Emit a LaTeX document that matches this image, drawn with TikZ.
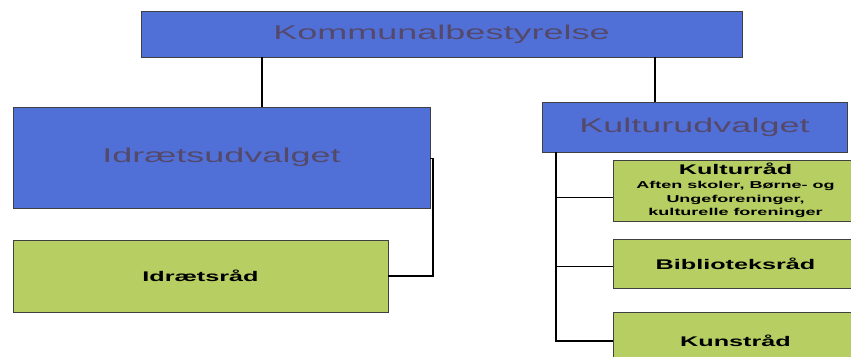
\documentclass[tikz,border=0pt]{standalone}
\usepackage{fontspec}
\setmainfont{Liberation Sans}
\usepackage{graphicx}
\definecolor{boxblue}{HTML}{5070D8}
\definecolor{boxgreen}{HTML}{B6CE62}
\definecolor{bluetext}{HTML}{55496B}
\newcommand{\sx}[1]{\scalebox{1.8}[1]{#1}}
\tikzset{
  bluebox/.style={draw=black!75, line width=0.8pt, fill=boxblue, anchor=north west,
    inner sep=0pt, outer sep=0pt, text=bluetext, font=\fontsize{20}{22}\selectfont},
  greenbox/.style={draw=black!75, line width=0.8pt, fill=boxgreen, anchor=north west,
    inner sep=0pt, outer sep=0pt, text=black, align=center,
    font=\fontsize{14}{16}\selectfont\bfseries},
  conn/.style={draw=black, line width=1.2pt}
}
\begin{document}
\begin{tikzpicture}[x=1pt,y=-1pt]
\useasboundingbox (0,0) rectangle (851,356);
\clip (0,0) rectangle (851,356);
% boxes
\node[bluebox, minimum width=601pt, minimum height=46pt] (top) at (141,11) {\sx{Kommunalbestyrelse}};
\node[bluebox, minimum width=417pt, minimum height=101pt] (iu) at (13,107) {\sx{Idrætsudvalget}};
\node[greenbox, minimum width=375pt, minimum height=72pt] (ir) at (13,240) {\sx{Idrætsråd}};
\node[bluebox, minimum width=305pt, minimum height=50pt] (ku) at (542,102) {\sx{Kulturudvalget}};
\node[greenbox, minimum width=245pt, minimum height=61pt, font=\fontsize{10}{13.5}\selectfont\bfseries] (kr) at (613,160)
  {\sx{\fontsize{14}{14}\selectfont Kulturråd}\\[1pt]\sx{Aften skoler, Børne- og}\\\sx{Ungeforeninger,}\\\sx{kulturelle foreninger}};
\node[greenbox, minimum width=245pt, minimum height=49pt] (bib) at (613,239) {\sx{Biblioteksråd}};
\node[greenbox, minimum width=245pt, minimum height=58pt] (kun) at (613,312) {\sx{Kunstråd}};
% connector guides
\coordinate (lx) at (262,0);
\coordinate (rx) at (655,0);
\coordinate (tx) at (556,0);
% connectors
\draw[conn] (top.south -| lx) -- (iu.north -| lx);
\draw[conn] (top.south -| rx) -- (ku.north -| rx);
\draw[conn] ([yshift=-1pt]iu.east) -- ++(3,0) |- (ir.east);
\draw[conn] (ku.south -| tx) |- ([yshift=-7pt]kr.west);
\draw[conn] (ku.south -| tx) |- ([yshift=-3pt]bib.west);
\draw[conn] (ku.south -| tx) |- (kun.west);
\end{tikzpicture}
\end{document}
